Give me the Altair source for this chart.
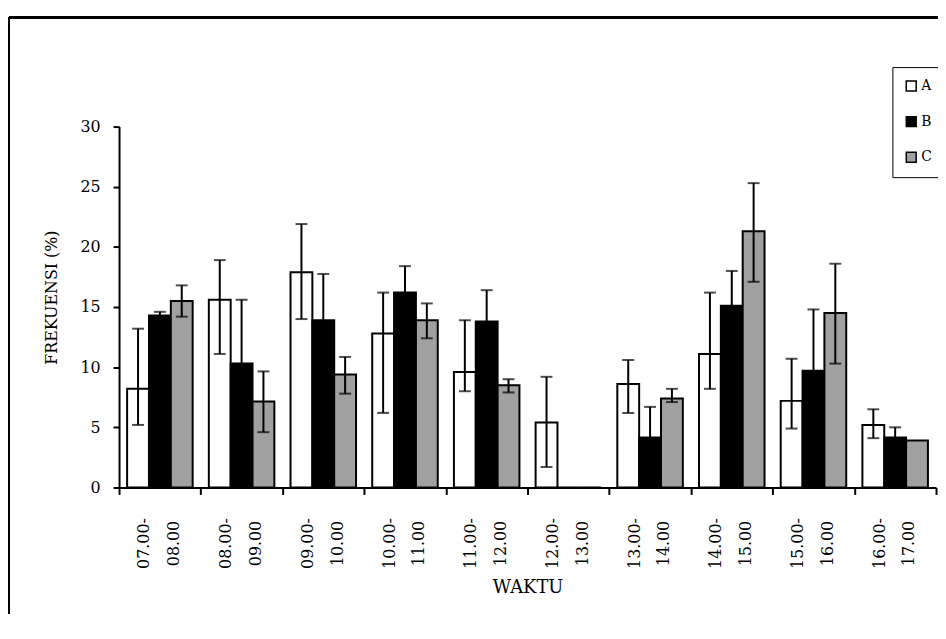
import altair as alt
import pandas as pd

periods = ["07.00-|08.00", "08.00-|09.00", "09.00-|10.00", "10.00-|11.00", "11.00-|12.00",
           "12.00-|13.00", "13.00-|14.00", "14.00-|15.00", "15.00-|16.00", "16.00-|17.00"]
series = ["A", "B", "C"]

a_val = [8.2, 15.6, 17.9, 12.8, 9.6, 5.4, 8.6, 11.1, 7.2, 5.2]
a_hi = [13.2, 18.9, 21.9, 16.2, 13.9, 9.2, 10.6, 16.2, 10.7, 6.5]
a_lo = [5.2, 11.1, 14.0, 6.2, 8.0, 1.7, 6.2, 8.2, 4.9, 4.1]

b_val = [14.3, 10.3, 13.9, 16.2, 13.8, 0.0, 4.15, 15.1, 9.7, 4.15]
b_hi = [14.6, 15.6, 17.75, 18.4, 16.4, None, 6.7, 18.0, 14.8, 5.0]
b_lo = [14.0, 5.0, 10.0, 14.0, 11.2, None, 1.6, 12.2, 4.6, 3.3]

c_val = [15.5, 7.15, 9.4, 13.9, 8.5, 0.0, 7.4, 21.3, 14.5, 3.9]
c_hi = [16.8, 9.65, 10.85, 15.3, 9.0, None, 8.2, 25.3, 18.6, None]
c_lo = [14.2, 4.6, 7.8, 12.4, 7.9, None, 7.1, 17.1, 10.3, None]

y_ticks = [0, 5, 10, 15, 20, 25, 30]

rows = []
for s, vals, los, his in [("A", a_val, a_lo, a_hi), ("B", b_val, b_lo, b_hi), ("C", c_val, c_lo, c_hi)]:
    for p, v, lo, hi in zip(periods, vals, los, his):
        rows.append({"period": p, "series": s, "value": v, "low": lo, "high": hi})
df = pd.DataFrame(rows)
err = df.dropna(subset=["low", "high"])

FONT = "DejaVu Serif"

x_enc = alt.X(
    "period:N", sort=periods,
    scale=alt.Scale(paddingInner=0, paddingOuter=0),
    axis=alt.Axis(
        title="WAKTU", labelExpr="split(datum.label, '|')", labelAngle=270,
        labelAlign="center", labelBaseline="middle", labelLineHeight=30,
        labelPadding=49, labelOffset=-16, tickSize=7, tickWidth=2, tickBand="extent",
        domainWidth=2, domainColor="black", tickColor="black",
        labelFont=FONT, labelFontSize=16, labelColor="black",
        labelOverlap=False, labelFlush=False,
        titleFont=FONT, titleFontSize=18, titleFontWeight="normal", titleColor="black",
        titleY=101, titleBaseline="middle",
    ),
)
xo_enc = alt.XOffset("series:N", sort=series, scale=alt.Scale(paddingInner=0, paddingOuter=0.37))
y_scale = alt.Scale(domain=[0, 30], nice=False)
y_axis = alt.Axis(
    title="FREKUENSI (%)", values=y_ticks, grid=False,
    tickSize=6, tickWidth=2, tickColor="black", domainWidth=2, domainColor="black",
    labelFont=FONT, labelFontSize=16, labelColor="black", labelPadding=13,
    titleFont=FONT, titleFontSize=16, titleFontWeight="normal", titleColor="black",
    titleAngle=270, titleX=-68, titleY=172, titleBaseline="middle", titleAlign="center",
)

bars = alt.Chart(df).mark_bar(stroke="black", strokeWidth=2).encode(
    x=x_enc, xOffset=xo_enc,
    y=alt.Y("value:Q", scale=y_scale, axis=y_axis),
    fill=alt.Fill(
        "series:N", sort=series,
        scale=alt.Scale(domain=series, range=["white", "black", "#a0a0a0"]),
        legend=alt.Legend(
            title=None, orient="none", legendX=780, legendY=-60, direction="vertical",
            symbolType="square", symbolSize=100, symbolStrokeColor="black",
            symbolStrokeWidth=1.5, symbolOpacity=1,
            labelFont=FONT, labelFontSize=14, labelColor="black", labelOffset=3,
            rowPadding=20, padding=12, strokeColor="black", fillColor="white",
        ),
    ),
)

rules = alt.Chart(err).mark_rule(color="black", strokeWidth=2).encode(
    x=x_enc, xOffset=xo_enc,
    y=alt.Y("low:Q", scale=y_scale, axis=y_axis),
    y2="high:Q",
)
cap_hi = alt.Chart(err).mark_tick(color="black", thickness=2, size=12, orient="horizontal").encode(
    x=x_enc, xOffset=xo_enc,
    y=alt.Y("high:Q", scale=y_scale, axis=y_axis),
)
cap_lo = alt.Chart(err).mark_tick(color="black", thickness=2, size=12, orient="horizontal").encode(
    x=x_enc, xOffset=xo_enc,
    y=alt.Y("low:Q", scale=y_scale, axis=y_axis),
)

frame_top = alt.Chart(df).mark_rule(color="black", strokeWidth=2).encode(
    x=alt.value(-111), x2=alt.value(840), y=alt.value(-110)
)
frame_left = alt.Chart(df).mark_rule(color="black", strokeWidth=2).encode(
    x=alt.value(-111), y=alt.value(-110), y2=alt.value(500)
)

chart = alt.layer(bars, rules, cap_hi, cap_lo, frame_top, frame_left).properties(
    width=824, height=364, background="white",
    autosize=alt.AutoSizeParams(type="none"),
    padding={"left": 112, "top": 117, "right": 2, "bottom": 125},
).configure_view(stroke="transparent")

chart.save("out.html", embed_options={"renderer": "svg", "actions": False})
